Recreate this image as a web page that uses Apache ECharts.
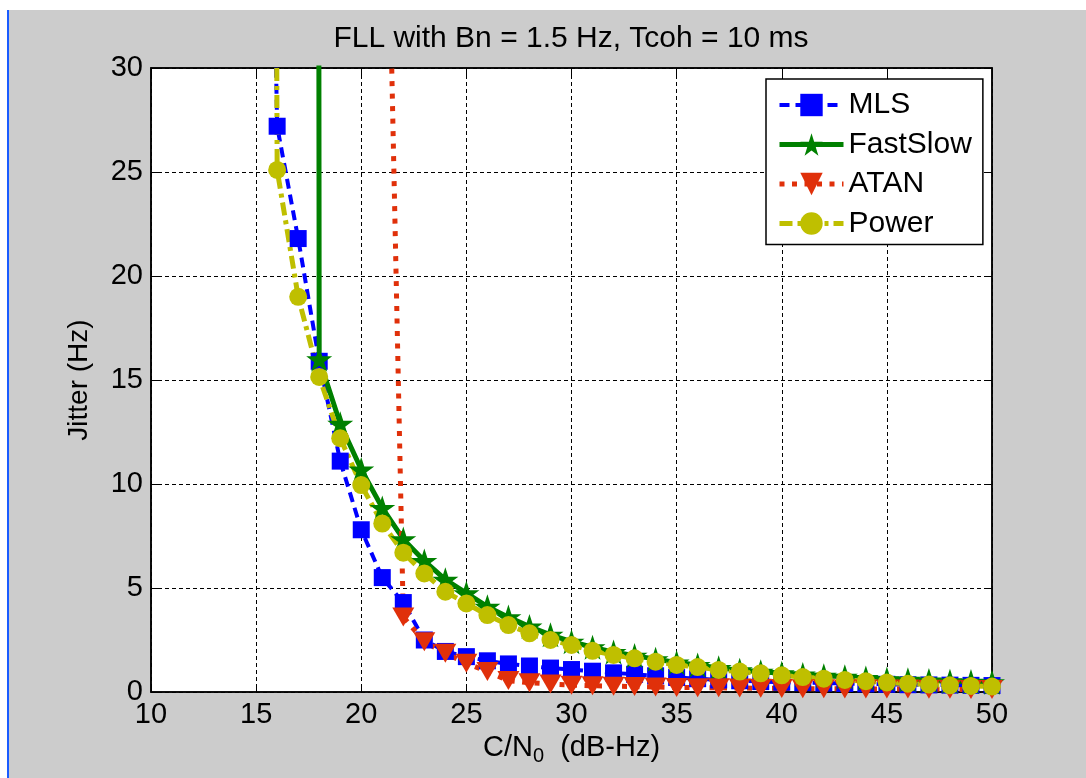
<!DOCTYPE html>
<html>
<head>
<meta charset="utf-8">
<title>FLL jitter vs C/N0</title>
<script src="https://cdn.jsdelivr.net/npm/echarts@6/dist/echarts.min.js"></script>
<style>
  html, body { margin: 0; padding: 0; background: #cccccc; }
  #chart { width: 1086px; height: 778px; }
</style>
</head>
<body>
<div id="chart"></div>
<script>
// C/N0 sample points (dB-Hz)
const cn0 = [15, 16, 17, 18, 19, 20, 21, 22, 23, 24, 25, 26, 27, 28, 29, 30, 31, 32,
             33, 34, 35, 36, 37, 38, 39, 40, 41, 42, 43, 44, 45, 46, 47, 48, 49, 50];

// Frequency jitter (Hz) per discriminator; values above 30 run off the top of the axes
const mls = [80, 27.2, 21.8, 15.9, 11.1, 7.8, 5.5, 4.3, 2.5, 1.95, 1.7, 1.5, 1.35, 1.25, 1.15, 1.08, 1.0, 0.92,
             0.85, 0.78, 0.7, 0.64, 0.58, 0.54, 0.5, 0.47, 0.45, 0.43, 0.41, 0.39, 0.37, 0.35, 0.34, 0.33, 0.32, 0.31];
const fastSlow = [null, null, 1000, 16.0, 12.9, 10.7, 8.85, 7.35, 6.3, 5.4, 4.75, 4.1, 3.6, 3.15, 2.75, 2.42, 2.15, 1.92,
                  1.75, 1.58, 1.42, 1.3, 1.16, 1.05, 0.97, 0.9, 0.84, 0.78, 0.73, 0.67, 0.62, 0.59, 0.55, 0.52, 0.5, 0.47];
const atan = [null, null, null, null, null, null, 51.6, 3.6, 2.42, 1.86, 1.38, 0.98, 0.55, 0.45, 0.38, 0.33, 0.3, 0.28,
              0.26, 0.24, 0.22, 0.21, 0.2, 0.19, 0.18, 0.17, 0.16, 0.16, 0.15, 0.15, 0.14, 0.14, 0.13, 0.13, 0.12, 0.12];
const power = [300, 25.1, 19.0, 15.15, 12.2, 9.95, 8.1, 6.7, 5.7, 4.82, 4.26, 3.7, 3.22, 2.82, 2.5, 2.26, 1.98, 1.78,
               1.62, 1.46, 1.3, 1.2, 1.06, 0.98, 0.9, 0.8, 0.72, 0.64, 0.58, 0.52, 0.46, 0.4, 0.36, 0.32, 0.29, 0.26];

const seriesNames = ['MLS', 'FastSlow', 'ATAN', 'Power'];
const titleText = 'FLL with Bn = 1.5 Hz, Tcoh = 10 ms';
const xTicks = { min: 10, max: 50, step: 5 };
const yTicks = { min: 0, max: 30, step: 5 };

const FONT = '"Liberation Sans", Arial, Helvetica, sans-serif';
const STAR = 'path://M100,0 L122.45,69.1 L195.1,69.1 L136.3,111.8 L158.8,180.9 L100,138.2 L41.2,180.9 L63.7,111.8 L4.9,69.1 L77.55,69.1 Z';

// Line look for each curve (shared by plot and legend)
const styles = {
  MLS:      { color: '#0000ff', width: 4, dash: [10, 6], symbol: 'rect', size: 17, rotate: 0 },
  FastSlow: { color: '#008000', width: 5, dash: 'solid', symbol: STAR, size: [26, 25], rotate: 0 },
  ATAN:     { color: '#e0300a', width: 5, dash: [5, 7.5], symbol: 'triangle', size: [22, 19], rotate: 180 },
  Power:    { color: '#bfbf00', width: 5, dash: [13, 5, 4, 5], symbol: 'circle', size: 18, rotate: 0 }
};
const values = { MLS: mls, FastSlow: fastSlow, ATAN: atan, Power: power };

function pairs(ys) {
  return cn0.map((x, i) => [x, ys[i]]);
}

const tickStyle = { inside: true, length: 8, lineStyle: { color: '#000', width: 1 } };
const axisLine = { show: true, onZero: false, lineStyle: { color: '#000', width: 1.5 } };
const gridLine = { show: true, lineStyle: { color: '#000', width: 1, type: [4, 3] } };

const chart = echarts.init(document.getElementById('chart'), null, { renderer: 'canvas' });

chart.setOption({
  backgroundColor: '#cccccc',
  animation: false,
  textStyle: { fontFamily: FONT },
  title: {
    text: titleText,
    left: 566,
    top: 19,
    textAlign: 'center',
    textStyle: { fontFamily: FONT, fontSize: 30, fontWeight: 'normal', color: '#000' }
  },
  graphic: [
    { type: 'rect', shape: { x: 0, y: 0, width: 1086, height: 10 }, style: { fill: '#fff' }, silent: true },
    { type: 'rect', shape: { x: 0, y: 0, width: 7, height: 778 }, style: { fill: '#fff' }, silent: true },
    { type: 'line', shape: { x1: 8, y1: 10, x2: 8, y2: 778 }, style: { stroke: '#1a5cff', lineWidth: 2 }, silent: true }
  ],
  grid: {
    left: 151, right: 94, top: 68, bottom: 86,
    show: true, backgroundColor: '#fff', borderColor: '#000', borderWidth: 1.5
  },
  legend: {
    data: seriesNames.map(n => ({
      name: n,
      lineStyle: { color: styles[n].color, width: styles[n].width, type: styles[n].dash }
    })),
    orient: 'vertical',
    left: 766,
    top: 79,
    backgroundColor: '#fff',
    borderColor: '#000',
    borderWidth: 1.5,
    borderRadius: 0,
    padding: [11, 11, 6, 11],
    itemWidth: 64,
    itemHeight: 28,
    itemGap: 9.5,
    textStyle: { fontFamily: FONT, fontSize: 30, color: '#000', lineHeight: 28, padding: [0, 0, 0, 0] }
  },
  xAxis: [
    {
      type: 'value', min: xTicks.min, max: xTicks.max, interval: xTicks.step,
      axisLine: axisLine, axisTick: tickStyle, splitLine: gridLine,
      axisLabel: { fontFamily: FONT, fontSize: 29, color: '#000', margin: 8 },
      name: '{a|C/N}{s|0}{a|  (dB-Hz)}',
      nameLocation: 'middle',
      nameGap: 37,
      nameTextStyle: {
        rich: {
          a: { fontFamily: FONT, fontSize: 29, color: '#000' },
          s: { fontFamily: FONT, fontSize: 20, color: '#000', padding: [16, 0, 0, 0] }
        }
      }
    },
    {
      type: 'value', position: 'top', min: xTicks.min, max: xTicks.max, interval: xTicks.step,
      axisLine: axisLine, axisTick: tickStyle, splitLine: { show: false }, axisLabel: { show: false }
    }
  ],
  yAxis: [
    {
      type: 'value', min: yTicks.min, max: yTicks.max, interval: yTicks.step,
      axisLine: axisLine, axisTick: tickStyle, splitLine: gridLine,
      axisLabel: { fontFamily: FONT, fontSize: 29, color: '#000', margin: 8 },
      name: 'Jitter (Hz)',
      nameLocation: 'middle',
      nameGap: 58,
      nameRotate: 90,
      nameTextStyle: { fontFamily: FONT, fontSize: 28, color: '#000' }
    },
    {
      type: 'value', position: 'right', min: yTicks.min, max: yTicks.max, interval: yTicks.step,
      axisLine: axisLine, axisTick: tickStyle, splitLine: { show: false }, axisLabel: { show: false }
    }
  ],
  series: seriesNames.map(n => ({
    name: n,
    type: 'line',
    data: pairs(values[n]),
    clip: true,
    symbol: styles[n].symbol,
    symbolSize: styles[n].size,
    symbolRotate: styles[n].rotate,
    itemStyle: { color: styles[n].color },
    lineStyle: { color: styles[n].color, width: styles[n].width, type: styles[n].dash }
  }))
});
</script>
</body>
</html>
